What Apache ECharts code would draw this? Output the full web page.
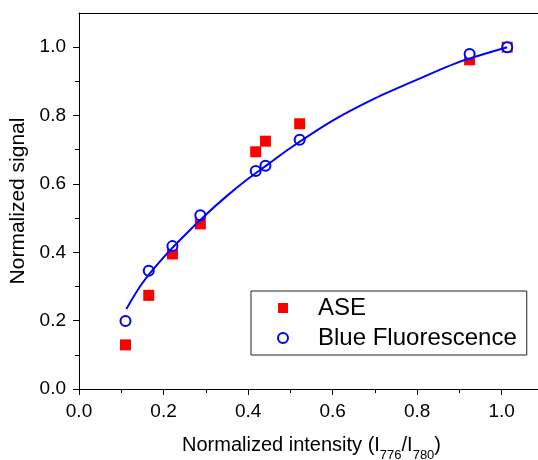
<!DOCTYPE html>
<html>
<head>
<meta charset="utf-8">
<script src="https://cdn.jsdelivr.net/npm/echarts@6/dist/echarts.min.js"></script>
<style>html,body{margin:0;padding:0;background:#fff;}#c{width:538px;height:460px;}</style>
</head>
<body>
<div id="c"></div>
<script>
const aseX = [0.110, 0.165, 0.221, 0.287, 0.418, 0.441, 0.522, 0.924, 1.013];
const aseY = [0.129, 0.274, 0.395, 0.483, 0.694, 0.725, 0.776, 0.963, 1.000];
const blueX = [0.110, 0.165, 0.221, 0.287, 0.418, 0.441, 0.522, 0.924, 1.013];
const blueY = [0.199, 0.346, 0.418, 0.508, 0.638, 0.653, 0.729, 0.980, 1.000];
const fitX = [0.112, 0.15, 0.2, 0.25, 0.3, 0.35, 0.4, 0.45, 0.5, 0.6, 0.7, 0.8, 0.9, 1.013];
const fitY = [0.234, 0.31, 0.385, 0.45, 0.51, 0.565, 0.615, 0.66, 0.705, 0.785, 0.85, 0.905, 0.957, 1.0];
const majorTicks = [0, 0.2, 0.4, 0.6, 0.8, 1.0];
const minorTicks = [0.1, 0.3, 0.5, 0.7, 0.9];
const seriesNames = ['ASE', 'Blue Fluorescence'];
const xTitle = '{n|Normalized intensity (I}{sub|776}{n|/I}{sub|780}{n|)}';
const yTitle = 'Normalized signal';

const FONT = "'Liberation Sans', Arial, sans-serif";
const zip = (a, b) => a.map((v, i) => [v, b[i]]);
const chart = echarts.init(document.getElementById('c'), null, {renderer: 'canvas'});

const baseAxis = {
  type: 'value', min: 0, max: 1.1, splitLine: {show: false}
};
chart.setOption({
  animation: false,
  backgroundColor: '#fff',
  textStyle: {fontFamily: FONT},
  grid: {left: 79, top: 13, right: -6, bottom: 71, containLabel: false, outerBoundsMode: 'none'},
  xAxis: [
    Object.assign({}, baseAxis, {
      position: 'bottom', interval: 0.2,
      axisLine: {show: true, lineStyle: {color: '#000', width: 1}},
      axisTick: {show: true, inside: false, length: 6, customValues: majorTicks, lineStyle: {color: '#000'}},
      axisLabel: {show: true, customValues: majorTicks, margin: 13, fontSize: 19, color: '#000', fontFamily: FONT,
        formatter: v => v.toFixed(1)},
      name: xTitle, nameLocation: 'middle', nameGap: 46,
      nameTextStyle: {fontFamily: FONT, color: '#000',
        rich: {
          n: {fontSize: 20, lineHeight: 20, verticalAlign: 'top', fontFamily: FONT, color: '#000'},
          sub: {fontSize: 13, lineHeight: 13, verticalAlign: 'top', padding: [14, 0, 0, 0], fontFamily: FONT, color: '#000'}
        }}
    }),
    Object.assign({}, baseAxis, {
      position: 'bottom', interval: 0.1,
      axisLine: {show: false},
      axisTick: {show: true, length: 4, customValues: minorTicks, lineStyle: {color: '#000'}},
      axisLabel: {show: false}
    }),
    Object.assign({}, baseAxis, {
      position: 'top', interval: 0.2,
      axisLine: {show: true, lineStyle: {color: '#000', width: 1}},
      axisTick: {show: false}, axisLabel: {show: false}
    })
  ],
  yAxis: [
    Object.assign({}, baseAxis, {
      position: 'left', interval: 0.2,
      axisLine: {show: true, lineStyle: {color: '#000', width: 1}},
      axisTick: {show: true, length: 6, customValues: majorTicks, lineStyle: {color: '#000'}},
      axisLabel: {show: true, customValues: majorTicks, margin: 13, fontSize: 19, color: '#000', fontFamily: FONT,
        formatter: v => v.toFixed(1)},
      name: yTitle, nameLocation: 'middle', nameGap: 40, nameRotate: 90,
      nameTextStyle: {fontSize: 21, color: '#000', fontFamily: FONT}
    }),
    Object.assign({}, baseAxis, {
      position: 'left', interval: 0.1,
      axisLine: {show: false},
      axisTick: {show: true, length: 4, customValues: minorTicks, lineStyle: {color: '#000'}},
      axisLabel: {show: false}
    })
  ],
  legend: {
    orient: 'vertical', left: 251, top: 291,
    data: seriesNames,
    itemWidth: 10, itemHeight: 10, itemGap: 6,
    padding: [5, 10, 5, 26],
    borderColor: '#222', borderWidth: 1,
    backgroundColor: '#fff',
    textStyle: {fontSize: 24, lineHeight: 24, color: '#000', fontFamily: FONT, padding: [0, 0, 0, 25]}
  },
  series: [
    {
      name: seriesNames[0], type: 'scatter', xAxisIndex: 0, yAxisIndex: 0,
      symbol: 'rect', symbolSize: 11, z: 2,
      itemStyle: {color: '#ff0000', opacity: 1},
      data: zip(aseX, aseY)
    },
    {
      name: seriesNames[1], type: 'scatter', xAxisIndex: 0, yAxisIndex: 0,
      symbol: 'emptyCircle', symbolSize: 10, z: 3,
      itemStyle: {color: '#0000ff', borderColor: '#0000ff', borderWidth: 1.2, opacity: 1},
      data: zip(blueX, blueY)
    },
    {
      name: 'fit', type: 'line', xAxisIndex: 0, yAxisIndex: 0,
      smooth: 0.3, showSymbol: false, symbol: 'none', z: 4,
      lineStyle: {color: '#0000ff', width: 2},
      data: zip(fitX, fitY)
    }
  ]
});
</script>
</body>
</html>
